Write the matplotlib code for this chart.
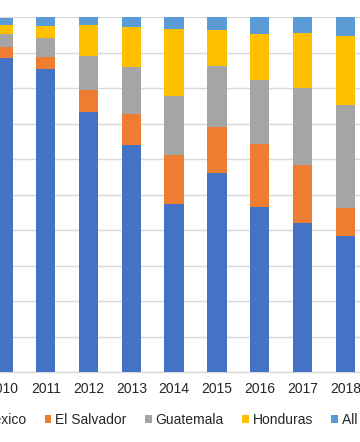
import matplotlib
matplotlib.use("Agg")
import matplotlib.pyplot as plt
from matplotlib.patches import Patch
import numpy as np

# ---------------------------------------------------------------------------
# Data: share of each group per year
# ---------------------------------------------------------------------------
years = ["2010", "2011", "2012", "2013", "2014", "2015", "2016", "2017", "2018"]

mexico      = [0.886, 0.855, 0.734, 0.640, 0.474, 0.561, 0.466, 0.421, 0.384]
el_salvador = [0.029, 0.032, 0.062, 0.088, 0.138, 0.130, 0.177, 0.163, 0.080]
guatemala   = [0.038, 0.054, 0.096, 0.132, 0.166, 0.172, 0.181, 0.217, 0.290]
honduras    = [0.026, 0.034, 0.086, 0.112, 0.190, 0.101, 0.130, 0.156, 0.194]
all_other   = [0.020, 0.025, 0.022, 0.028, 0.032, 0.036, 0.046, 0.043, 0.052]

series_names  = ["Mexico", "El Salvador", "Guatemala", "Honduras", "All Other"]
series_colors = ["#4472C4", "#ED7D31", "#A5A5A5", "#FFC000", "#5B9BD5"]

TEXT_COLOR = "#262626"
GRID_COLOR = "#D9D9D9"

plt.rcParams["font.family"] = ["Liberation Sans", "DejaVu Sans"]

fig = plt.figure(figsize=(3.6, 4.42), dpi=100)
# plot area spills past the left/right edge of the canvas (cropped chart)
ax = fig.add_axes([0.0, 0.1577, 1.0, 0.8032])

x = np.arange(len(years))
values = [mexico, el_salvador, guatemala, honduras, all_other]
bottom = np.zeros(len(years))
for name, vals, color in zip(series_names, values, series_colors):
    vals = np.asarray(vals)
    ax.bar(x, vals, width=0.456, bottom=bottom, color=color, label=name,
           zorder=3, linewidth=0)
    bottom += vals

ax.set_xlim(-0.068, 8.343)
ax.set_ylim(0, 1)
ax.set_yticks(np.arange(0, 1.01, 0.1))
ax.yaxis.grid(True, color=GRID_COLOR, linewidth=1.0, zorder=0)
ax.set_axisbelow(True)

ax.set_xticks(x)
ax.set_xticklabels(years)
ax.tick_params(axis="x", length=0, pad=7, labelsize=10, labelcolor=TEXT_COLOR)
ax.tick_params(axis="y", left=False, labelleft=False)

for side in ["top", "left", "right"]:
    ax.spines[side].set_visible(False)
ax.spines["bottom"].set_color(GRID_COLOR)
ax.spines["bottom"].set_linewidth(1.0)

handles = [Patch(facecolor=c, edgecolor="none") for c in series_colors]
fig.legend(handles, series_names, loc="center left",
           bbox_to_anchor=(-0.078, 0.05), ncol=5, frameon=False,
           fontsize=10, labelcolor=TEXT_COLOR,
           handlelength=0.48, handleheight=0.48, handletextpad=0.29,
           columnspacing=1.3, borderpad=0, borderaxespad=0)

fig.savefig("out.png", dpi=100)
